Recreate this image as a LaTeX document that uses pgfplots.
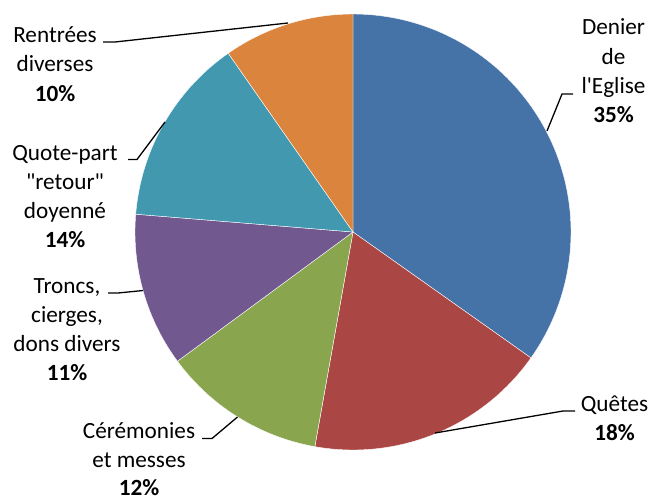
\documentclass[border=0pt]{standalone}
\usepackage{pgfplots}
\pgfplotsset{compat=1.18}
\usepackage{pgfplotstable}
\usepackage{fontspec}
\setmainfont{Carlito}[Ligatures=TeXOff]

\definecolor{slice0}{HTML}{4572A7}
\definecolor{slice1}{HTML}{AA4643}
\definecolor{slice2}{HTML}{89A54E}
\definecolor{slice3}{HTML}{71588F}
\definecolor{slice4}{HTML}{4198AF}
\definecolor{slice5}{HTML}{DB843D}

% shares in percent, clockwise from 12 o'clock
\pgfplotstableread{
share
34.8
18.0
12.1
11.4
14.0
9.7
}\piedata

\newcommand{\lab}[3]{\node[anchor=base,inner sep=0pt,font=\fontsize{23.3}{28}\selectfont] at (axis cs:#1,#2) {#3};}

\begin{document}
\begin{tikzpicture}
\begin{axis}[
    width=652bp, height=498bp, scale only axis,
    xmin=0, xmax=652, ymin=0, ymax=498,
    y dir=reverse,
    hide axis, clip=false,
]
\def\startangle{90}
\foreach \i in {0,...,5}{
  \pgfplotstablegetelem{\i}{share}\of\piedata
  \pgfmathsetmacro\endangle{\startangle-3.6*\pgfplotsretval}
  \edef\doplot{\noexpand\addplot[fill=slice\i, draw=white, line width=0.4bp,
      domain=\endangle:\startangle, samples=90]
      ({353+218*cos(x)},{232-218*sin(x)}) -- (axis cs:353,232) -- cycle;}
  \doplot
  \global\let\startangle\endangle
}

% leader lines
\draw[line width=1.3bp] (axis cs:573,94) -- (axis cs:562,94) -- (axis cs:547,131);
\draw[line width=1.3bp] (axis cs:575,411) -- (axis cs:563,411) -- (axis cs:435,433);
\draw[line width=1.3bp] (axis cs:202,438.5) -- (axis cs:212,438.5) -- (axis cs:237.5,417);
\draw[line width=1.3bp] (axis cs:108,293) -- (axis cs:118,293) -- (axis cs:143,290.5);
\draw[line width=1.3bp] (axis cs:128,159.5) -- (axis cs:137,159.5) -- (axis cs:165,122);
\draw[line width=1.3bp] (axis cs:103,42) -- (axis cs:115,42) -- (axis cs:288,23);

% labels
\lab{613.5}{35}{Denier}
\lab{613.5}{64}{de}
\lab{613.5}{93}{l'Eglise}
\lab{613.5}{122}{\textbf{35\%}}

\lab{614.5}{411}{Quêtes}
\lab{614.5}{440}{\textbf{18\%}}

\lab{139}{438}{Cérémonies}
\lab{139}{467}{et messes}
\lab{139}{495.5}{\textbf{12\%}}

\lab{67}{293.3}{Troncs,}
\lab{67}{322.3}{cierges,}
\lab{67}{351.3}{dons divers}
\lab{67}{380.5}{\textbf{11\%}}

\lab{65}{160.5}{Quote-part}
\lab{65}{189.5}{"retour"}
\lab{65}{218.5}{doyenné}
\lab{65}{247.5}{\textbf{14\%}}

\lab{55}{42.3}{Rentrées}
\lab{55}{71.8}{diverses}
\lab{55}{101.3}{\textbf{10\%}}
\end{axis}
\pgfresetboundingbox
\path (0,0) rectangle (652bp,498bp);
\end{tikzpicture}
\end{document}
